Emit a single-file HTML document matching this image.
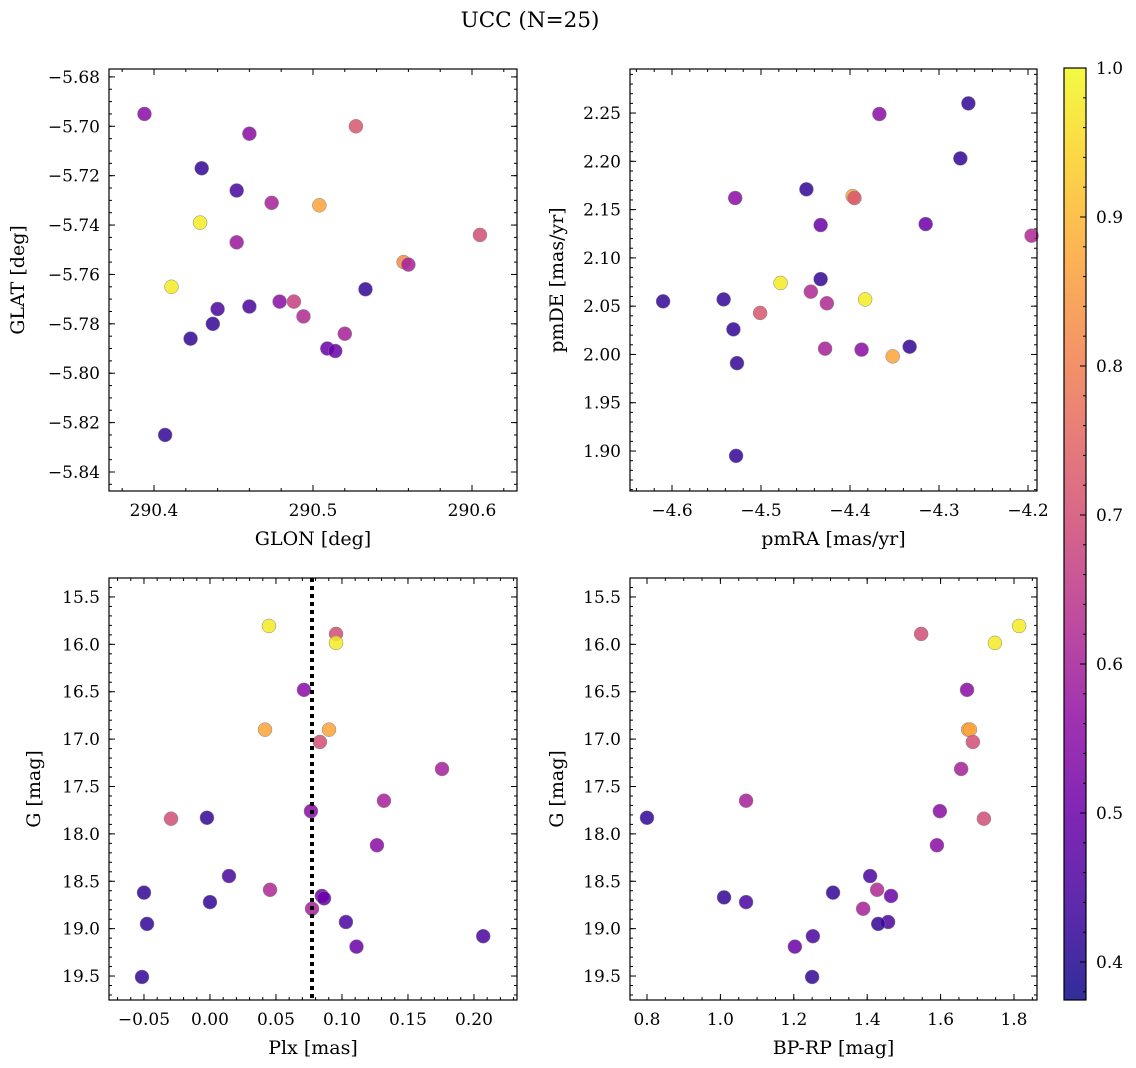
<!DOCTYPE html>
<html><head><meta charset="utf-8">
<style>
html,body{margin:0;padding:0;background:#fff;}
svg{display:block;font-family:"DejaVu Serif","Liberation Serif",serif;}
</style></head>
<body>
<svg id="fig" width="1136" height="1068" viewBox="0 0 1136 1068" xmlns="http://www.w3.org/2000/svg">
<text x="530" y="27" font-size="21.5" text-anchor="middle">UCC (N=25)</text>
</svg>
<script>
// ---- data ----
const p1Glon=[290.394,290.460,290.527,290.430,290.452,290.474,290.504,290.429,290.452,290.605,290.557,290.560,290.411,290.533,290.479,290.488,290.460,290.440,290.494,290.437,290.520,290.423,290.509,290.514,290.407];
const p1Glat=[-5.695,-5.703,-5.700,-5.717,-5.726,-5.731,-5.732,-5.739,-5.747,-5.744,-5.755,-5.756,-5.765,-5.766,-5.771,-5.771,-5.773,-5.774,-5.777,-5.780,-5.784,-5.786,-5.790,-5.791,-5.825];
const p1Prob=[0.55,0.55,0.72,0.42,0.45,0.6,0.87,0.98,0.58,0.7,0.82,0.6,0.98,0.42,0.55,0.67,0.45,0.45,0.62,0.42,0.6,0.42,0.5,0.5,0.42];

const p2PmRA=[-4.367,-4.267,-4.276,-4.449,-4.397,-4.395,-4.529,-4.315,-4.433,-4.196,-4.433,-4.478,-4.444,-4.426,-4.383,-4.610,-4.542,-4.501,-4.531,-4.428,-4.333,-4.387,-4.352,-4.527,-4.528];
const p2PmDE=[2.249,2.260,2.203,2.171,2.164,2.162,2.162,2.135,2.134,2.123,2.078,2.074,2.065,2.053,2.057,2.055,2.057,2.043,2.026,2.006,2.008,2.005,1.998,1.991,1.895];
const p2Prob=[0.55,0.42,0.42,0.42,0.87,0.72,0.55,0.5,0.5,0.62,0.42,0.98,0.62,0.62,0.98,0.42,0.42,0.72,0.42,0.6,0.42,0.55,0.87,0.42,0.42];

const p3Plx=[0.0447,0.0955,0.0955,0.0712,0.0417,0.0902,0.0833,0.1758,0.1318,0.0765,-0.0295,-0.0023,0.1265,0.0144,0.0455,-0.05,0.0848,0.0864,0.0,0.0773,0.103,-0.0477,0.207,0.111,-0.0515];
const p3G=[15.806,15.89,15.985,16.48,16.90,16.90,17.03,17.315,17.65,17.76,17.84,17.83,18.12,18.445,18.59,18.62,18.655,18.68,18.72,18.79,18.93,18.95,19.08,19.19,19.51];
const p3Prob=[0.98,0.7,0.98,0.55,0.87,0.87,0.7,0.6,0.6,0.55,0.7,0.42,0.55,0.45,0.62,0.42,0.5,0.5,0.42,0.6,0.45,0.42,0.45,0.5,0.42];
const plxLine=0.0773;

const p4BpRp=[1.814,1.547,1.748,1.672,1.675,1.68,1.688,1.656,1.598,1.07,0.8,1.718,1.59,1.408,1.427,1.307,1.465,1.01,1.07,1.389,1.457,1.43,1.252,1.203,1.25];
const p4G=[15.806,15.89,15.985,16.48,16.90,16.90,17.03,17.315,17.76,17.65,17.83,17.84,18.12,18.445,18.59,18.62,18.655,18.67,18.72,18.79,18.93,18.95,19.08,19.19,19.51];
const p4Prob=[0.98,0.7,0.98,0.55,0.87,0.87,0.7,0.6,0.55,0.6,0.42,0.7,0.55,0.45,0.62,0.42,0.5,0.42,0.45,0.6,0.45,0.42,0.45,0.5,0.42];

const cbTicks=[0.4,0.5,0.6,0.7,0.8,0.9,1.0];
// ---- helpers ----
const NS="http://www.w3.org/2000/svg";
const svg=document.getElementById('fig');
function mk(tag,attrs,parent){const e=document.createElementNS(NS,tag);for(const k in attrs)e.setAttribute(k,attrs[k]);(parent||svg).appendChild(e);return e;}
const stops=["#0d0887","#41049d","#6a00a8","#8f0da4","#b12a90","#cc4778","#e16462","#f2844b","#fca636","#fcce25","#f0f921"];
function hx(c){return [parseInt(c.slice(1,3),16),parseInt(c.slice(3,5),16),parseInt(c.slice(5,7),16)];}
const pmin=0.3745,pmax=1.0;
function plasma(t){t=Math.max(0,Math.min(1,t));const f=t*10,i=Math.min(9,Math.floor(f)),r=f-i;const a=hx(stops[i]),b=hx(stops[i+1]);return `rgb(${a.map((v,k)=>Math.round(v+(b[k]-v)*r)).join(',')})`;}
function pcol(p){return plasma((p-pmin)/(pmax-pmin));}
function fmt(v,d){let s=v.toFixed(d);if(s.startsWith('-'))s='\u2212'+s.slice(1);return s;}

function panel(o){
  const {name,x0,x1,y0,y1,xmin,xmax,ymin,ymax,invertY}=o;
  const g=mk('g',{});
  
  
  const sx=v=>x0+(v-xmin)/(xmax-xmin)*(x1-x0);
  const sy=invertY?(v=>y0+(v-ymin)/(ymax-ymin)*(y1-y0)):(v=>y1-(v-ymin)/(ymax-ymin)*(y1-y0));
  const eps=1e-9;
  function ticks(lo,hi,step){const a=[];for(let v=Math.ceil(lo/step-eps)*step;v<=hi+eps;v+=step)a.push(+v.toFixed(6));return a;}
  for(const v of ticks(xmin,xmax,o.xMinor)){const X=sx(v);mk('line',{x1:X,x2:X,y1:y1,y2:y1-3,stroke:'#000','stroke-width':1},g);mk('line',{x1:X,x2:X,y1:y0,y2:y0+3,stroke:'#000','stroke-width':1},g);}
  for(const v of ticks(ymin,ymax,o.yMinor)){const Y=sy(v);mk('line',{x1:x0,x2:x0+3,y1:Y,y2:Y,stroke:'#000','stroke-width':1},g);mk('line',{x1:x1,x2:x1-3,y1:Y,y2:Y,stroke:'#000','stroke-width':1},g);}
  for(const v of ticks(xmin,xmax,o.xMajor)){const X=sx(v);mk('line',{x1:X,x2:X,y1:y1,y2:y1-6,stroke:'#000','stroke-width':1},g);mk('line',{x1:X,x2:X,y1:y0,y2:y0+6,stroke:'#000','stroke-width':1},g);
    const t=mk('text',{x:X,y:y1+25,'font-size':17,'text-anchor':'middle'},g);t.textContent=fmt(v,o.xDec);
    
    }
  for(const v of ticks(ymin,ymax,o.yMajor)){const Y=sy(v);mk('line',{x1:x0,x2:x0+6,y1:Y,y2:Y,stroke:'#000','stroke-width':1},g);mk('line',{x1:x1,x2:x1-6,y1:Y,y2:Y,stroke:'#000','stroke-width':1},g);
    const t=mk('text',{x:x0-9,y:Y+6,'font-size':17,'text-anchor':'end'},g);t.textContent=fmt(v,o.yDec);
    
    }
  o.xs.forEach((xv,i)=>{const c=mk('circle',{cx:sx(xv),cy:sy(o.ys[i]),r:7,fill:pcol(o.ps[i]),'fill-opacity':0.85,stroke:'#888','stroke-width':0.5},g);
    
    });
  if(o.vline!==undefined){const X=sx(o.vline);const l=mk('line',{x1:X,x2:X,y1:y0,y2:y1,stroke:'#000','stroke-width':4,'stroke-dasharray':'4,4'},g);
    
    }
  const fr=mk('rect',{x:x0,y:y0,width:x1-x0,height:y1-y0,fill:'none',stroke:'#000','stroke-width':1.2},g);
  
  
  const xl=mk('text',{x:(x0+x1)/2,y:y1+54,'font-size':19,'text-anchor':'middle'},g);xl.textContent=o.xlabel;
  
  
  const yc=(y0+y1)/2;
  const yl=mk('text',{x:o.ylx,y:yc,'font-size':19,'text-anchor':'middle',transform:`rotate(-90 ${o.ylx} ${yc})`},g);yl.textContent=o.ylabel;
  
  
}

panel({name:'glon-glat-panel',x0:109,x1:517,y0:69,y1:491,xmin:290.3717,xmax:290.6283,ymin:-5.8477,ymax:-5.6768,xMajor:0.1,xMinor:0.02,yMajor:0.02,yMinor:0.005,xDec:1,yDec:2,xs:p1Glon,ys:p1Glat,ps:p1Prob,xlabel:'GLON [deg]',ylabel:'GLAT [deg]',ylx:24});
panel({name:'pm-panel',x0:630,x1:1037,y0:69,y1:491,xmin:-4.6472,xmax:-4.1899,ymin:1.8586,ymax:2.2956,xMajor:0.1,xMinor:0.02,yMajor:0.05,yMinor:0.01,xDec:1,yDec:2,xs:p2PmRA,ys:p2PmDE,ps:p2Prob,xlabel:'pmRA [mas/yr]',ylabel:'pmDE [mas/yr]',ylx:563});
panel({name:'plx-g-panel',x0:109,x1:517,y0:578,y1:1000,xmin:-0.0765,xmax:0.2326,ymin:15.3,ymax:19.753,invertY:true,xMajor:0.05,xMinor:0.01,yMajor:0.5,yMinor:0.1,xDec:2,yDec:1,xs:p3Plx,ys:p3G,ps:p3Prob,vline:plxLine,xlabel:'Plx [mas]',ylabel:'G [mag]',ylx:40});
panel({name:'cmd-panel',x0:630,x1:1037,y0:578,y1:1000,xmin:0.7537,xmax:1.8627,ymin:15.3,ymax:19.753,invertY:true,xMajor:0.2,xMinor:0.05,yMajor:0.5,yMinor:0.1,xDec:1,yDec:1,xs:p4BpRp,ys:p4G,ps:p4Prob,xlabel:'BP-RP [mag]',ylabel:'G [mag]',ylx:563});

// colorbar
const cb=mk('g',{});


const cx0=1064,cx1=1086,cy0=68,cy1=1000;
const defs=mk('defs',{},cb);
const grad=mk('linearGradient',{id:'cbg',x1:0,y1:1,x2:0,y2:0},defs);
for(let i=0;i<=20;i++){mk('stop',{offset:i/20,'stop-color':plasma(i/20),'stop-opacity':0.85},grad);}
mk('rect',{x:cx0,y:cy0,width:cx1-cx0,height:cy1-cy0,fill:'url(#cbg)',stroke:'#000','stroke-width':1.2},cb);
const cy=v=>cy1-(v-pmin)/(pmax-pmin)*(cy1-cy0);
for(let v=0.38;v<=1.0001;v+=0.02){const Y=cy(v);mk('line',{x1:cx1,x2:cx1-3,y1:Y,y2:Y,stroke:'#000'},cb);}
cbTicks.forEach(v=>{const Y=cy(v);mk('line',{x1:cx1,x2:cx1-6,y1:Y,y2:Y,stroke:'#000'},cb);
  const t=mk('text',{x:cx1+10,y:Y+6,'font-size':17},cb);t.textContent=v.toFixed(1);
  
  });
</script>
</body></html>
